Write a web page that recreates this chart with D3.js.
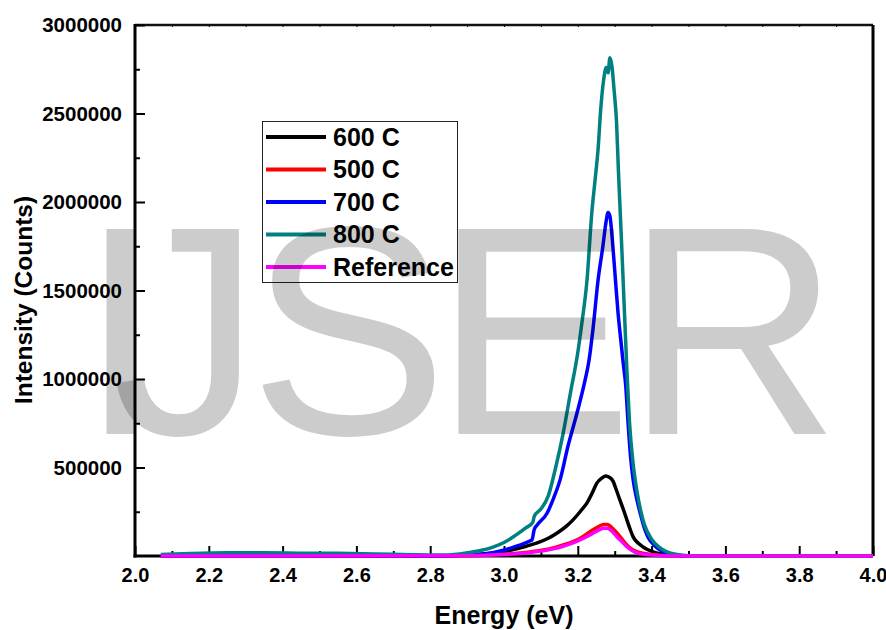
<!DOCTYPE html>
<html>
<head>
<meta charset="utf-8">
<script src="https://cdn.jsdelivr.net/npm/d3@7"></script>
<style>
  body { margin: 0; background: #fff; }
  svg { display: block; font-family: "Liberation Sans", Arial, sans-serif; }
</style>
</head>
<body>
<svg id="svgRoot" width="886" height="630"></svg>
<script>
// values (energy in eV, intensity in counts)
const names = ["600 C", "500 C", "700 C", "800 C", "Reference"]
const colors = ["#000000", "#ff0000", "#0000ff", "#008080", "#ff00ff"]

const energy_600 = [2.07, 2.85, 2.97, 3.02, 3.06, 3.09, 3.12, 3.144, 3.17, 3.187, 3.21, 3.225, 3.24, 3.252, 3.265, 3.276, 3.285, 3.295, 3.305, 3.314, 3.324, 3.333, 3.342, 3.35, 3.365, 3.377, 3.39, 3.404, 3.43, 3.46, 3.5, 4.0]
const counts_600 = [0, 2000, 17000, 34000, 55000, 74000, 100000, 130000, 170000, 204000, 260000, 300000, 360000, 413000, 440000, 452000, 445000, 425000, 370000, 317000, 260000, 204000, 150000, 108000, 70000, 51000, 35000, 23000, 10000, 4000, 0, 0]

const energy_500 = [2.07, 2.9, 3.0, 3.07, 3.133, 3.16, 3.187, 3.21, 3.233, 3.255, 3.27, 3.28, 3.29, 3.306, 3.32, 3.333, 3.345, 3.36, 3.38, 3.4, 3.43, 3.5, 4.0]
const counts_500 = [0, 2000, 10000, 23000, 45000, 62000, 81000, 105000, 137000, 165000, 178000, 178000, 165000, 130000, 95000, 62000, 40000, 24000, 14000, 8000, 3000, 0, 0]

const energy_700 = [2.07, 2.8, 2.9, 2.95, 2.99, 3.04, 3.07, 3.076, 3.082, 3.09, 3.117, 3.135, 3.152, 3.173, 3.198, 3.22, 3.23, 3.241, 3.255, 3.268, 3.276, 3.282, 3.287, 3.295, 3.302, 3.309, 3.316, 3.323, 3.33, 3.336, 3.343, 3.35, 3.36, 3.369, 3.38, 3.39, 3.41, 3.423, 3.44, 3.46, 3.5, 4.0]
const counts_700 = [0, 0, 5000, 12000, 28000, 60000, 85000, 92000, 150000, 175000, 243000, 330000, 430000, 617000, 809000, 996000, 1100000, 1280000, 1560000, 1750000, 1880000, 1940000, 1920000, 1750000, 1560000, 1375000, 1230000, 1092000, 960000, 760000, 560000, 430000, 320000, 243000, 160000, 108000, 55000, 34000, 16000, 6000, 0, 0]

const energy_800 = [2.07, 2.15, 2.25, 2.35, 2.45, 2.55, 2.65, 2.75, 2.82, 2.88, 2.93, 2.97, 3.0, 3.03, 3.06, 3.078, 3.082, 3.1, 3.12, 3.14, 3.16, 3.18, 3.2, 3.21, 3.225, 3.238, 3.247, 3.255, 3.262, 3.27, 3.277, 3.282, 3.287, 3.293, 3.298, 3.305, 3.31, 3.318, 3.325, 3.333, 3.34, 3.35, 3.36, 3.37, 3.38, 3.4, 3.42, 3.44, 3.47, 3.5, 3.6, 4.0]
const counts_800 = [8000, 14000, 18000, 18000, 16000, 15000, 12000, 7000, 5000, 12000, 28000, 50000, 76000, 115000, 160000, 190000, 225000, 265000, 340000, 500000, 690000, 920000, 1150000, 1300000, 1560000, 1940000, 2128000, 2300000, 2520000, 2690000, 2760000, 2730000, 2815000, 2760000, 2640000, 2450000, 2180000, 1800000, 1450000, 1050000, 760000, 520000, 370000, 260000, 180000, 95000, 50000, 25000, 8000, 2000, 0, 0]

const energy_ref = [2.07, 2.9, 3.0, 3.07, 3.133, 3.16, 3.187, 3.21, 3.233, 3.255, 3.27, 3.28, 3.29, 3.306, 3.32, 3.333, 3.345, 3.36, 3.38, 3.4, 3.43, 3.5, 4.0]
const counts_ref = [0, 1500, 8000, 19000, 40000, 55000, 73600, 95000, 119000, 145000, 157000, 157000, 145000, 109000, 80000, 53000, 33000, 17000, 10000, 5000, 2000, 0, 0]

const xMajor = [2.0, 2.2, 2.4, 2.6, 2.8, 3.0, 3.2, 3.4, 3.6, 3.8, 4.0]
const xMinor = [2.1, 2.3, 2.5, 2.7, 2.9, 3.1, 3.3, 3.5, 3.7, 3.9]
const yMajor = [500000, 1000000, 1500000, 2000000, 2500000, 3000000]
const yMinor = [250000, 750000, 1250000, 1750000, 2250000, 2750000]

const energies = [energy_600, energy_500, energy_700, energy_800, energy_ref]
const counts = [counts_600, counts_500, counts_700, counts_800, counts_ref]
const series = names.map((n, i) => ({
  name: n,
  color: colors[i],
  points: energies[i].map((e, j) => [e, counts[i][j]])
}))

const svg = d3.select("#svgRoot")
const plot = { left: 135, right: 873, top: 25, bottom: 556 }

const scale_x = d3.scaleLinear().domain([2, 4]).range([plot.left, plot.right])
const scale_y = d3.scaleLinear().domain([0, 3000000]).range([plot.bottom, plot.top])

// frame
svg.append("line")
  .attr("x1", plot.left).attr("x2", plot.right)
  .attr("y1", plot.top).attr("y2", plot.top)
  .attr("stroke", "#111").attr("stroke-width", 2.5)
svg.append("line")
  .attr("x1", plot.right).attr("x2", plot.right)
  .attr("y1", plot.top).attr("y2", plot.bottom)
  .attr("stroke", "#000").attr("stroke-width", 3)

// tiny ticks on the top edge
svg.append("g")
  .attr("transform", `translate(0, ${plot.top})`)
  .call(d3.axisTop(scale_x).tickValues(xMajor.concat(xMinor)).tickSize(-2).tickFormat(""))
  .call(g => g.select(".domain").remove())
  .selectAll("line").attr("stroke-width", 1)

// x axis
let g_xAxis = svg.append("g").attr("transform", `translate(0, ${plot.bottom})`)
g_xAxis.call(d3.axisBottom(scale_x).tickValues(xMajor).tickSize(-10).tickPadding(12).tickFormat(d3.format(".1f")))
  .call(g => g.select(".domain").remove())
g_xAxis.selectAll("line").attr("stroke-width", 2)
g_xAxis.selectAll("text")
  .attr("font-size", "20px").attr("font-weight", "bold")
  .attr("font-family", "Liberation Sans, Arial, sans-serif").attr("fill", "#000")
svg.append("g").attr("transform", `translate(0, ${plot.bottom})`)
  .call(d3.axisBottom(scale_x).tickValues(xMinor).tickSize(-5).tickFormat(""))
  .call(g => g.select(".domain").remove())
  .selectAll("line").attr("stroke-width", 2)

// y axis
let g_yAxis = svg.append("g").attr("transform", `translate(${plot.left}, 0)`)
g_yAxis.call(d3.axisLeft(scale_y).tickValues(yMajor).tickSize(-10).tickPadding(13).tickFormat(d3.format("d")))
  .call(g => g.select(".domain").remove())
g_yAxis.selectAll("line").attr("stroke-width", 2)
g_yAxis.selectAll("text")
  .attr("font-size", "20.5px").attr("font-weight", "bold")
  .attr("font-family", "Liberation Sans, Arial, sans-serif").attr("fill", "#000")
svg.append("g").attr("transform", `translate(${plot.left}, 0)`)
  .call(d3.axisLeft(scale_y).tickValues(yMinor).tickSize(-5).tickFormat(""))
  .call(g => g.select(".domain").remove())
  .selectAll("line").attr("stroke-width", 2)

svg.append("line")
  .attr("x1", plot.left).attr("x2", plot.left)
  .attr("y1", plot.top - 1).attr("y2", plot.bottom + 1.5)
  .attr("stroke", "#000").attr("stroke-width", 3)
svg.append("line")
  .attr("x1", plot.left - 1.5).attr("x2", plot.right)
  .attr("y1", plot.bottom).attr("y2", plot.bottom)
  .attr("stroke", "#000").attr("stroke-width", 3)

// axis titles
svg.append("text")
  .attr("x", 504).attr("y", 624)
  .attr("text-anchor", "middle")
  .attr("font-size", "25px").attr("font-weight", "bold")
  .text("Energy (eV)")
svg.append("text")
  .attr("transform", "translate(32, 300) rotate(-90)")
  .attr("text-anchor", "middle")
  .attr("font-size", "24.5px").attr("font-weight", "bold")
  .text("Intensity (Counts)")

// spectra
const line = d3.line()
  .x(d => scale_x(d[0]))
  .y(d => scale_y(d[1]))
  .curve(d3.curveMonotoneX)

svg.append("g").attr("class", "g_lines")
  .selectAll("path")
  .data(series)
  .enter()
  .append("path")
  .attr("d", d => line(d.points))
  .attr("fill", "none")
  .attr("stroke", d => d.color)
  .attr("stroke-width", 3.5)
  .attr("stroke-linejoin", "round")

// legend
const legend = svg.append("g").attr("class", "g_legend")
legend.append("rect")
  .attr("x", 262.5).attr("y", 121.5)
  .attr("width", 195).attr("height", 161)
  .attr("fill", "none").attr("stroke", "#222").attr("stroke-width", 1)
const rows = legend.selectAll(".row").data(series).enter()
  .append("g").attr("class", "row")
  .attr("transform", (d, i) => `translate(0, ${137 + i * 32.5})`)
rows.append("line")
  .attr("x1", 266).attr("x2", 326)
  .attr("stroke", d => d.color).attr("stroke-width", 4)
rows.append("text")
  .attr("x", 333).attr("y", 8.5)
  .attr("font-size", "25px").attr("font-weight", "bold")
  .text(d => d.name)

// watermark laid over everything
svg.append("text")
  .attr("x", "79 112 249 434 625")
  .attr("y", 434)
  .attr("font-size", "298px")
  .attr("fill", "#000").attr("fill-opacity", 0.2)
  .text("IJSER")
</script>
</body>
</html>
